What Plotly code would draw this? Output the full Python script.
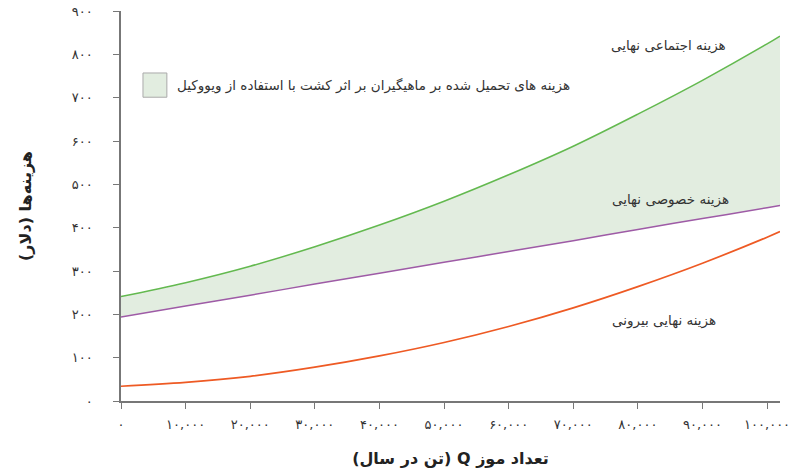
import plotly.graph_objects as go

# تعداد موز (تن در سال)
Q = [0, 10000, 20000, 30000, 40000, 50000, 60000, 70000, 80000, 90000, 100000, 102000]
# هزینه خصوصی نهایی
hazine_khosusi = [194, 219, 244, 270, 295, 320, 345, 370, 396, 421, 446, 451]
# هزینه نهایی بیرونی
hazine_biruni = [34, 43, 57, 78, 104, 135, 172, 215, 264, 318, 378, 391]
# هزینه اجتماعی نهایی
hazine_ejtemai = [241, 273, 311, 356, 406, 461, 522, 588, 662, 740, 824, 842]

y_tickvals = [0, 100, 200, 300, 400, 500, 600, 700, 800, 900]
y_ticktext = ["۰", "۱۰۰", "۲۰۰", "۳۰۰", "۴۰۰", "۵۰۰", "۶۰۰", "۷۰۰", "۸۰۰", "۹۰۰"]
x_tickvals = [0, 10000, 20000, 30000, 40000, 50000, 60000, 70000, 80000, 90000, 100000]
x_ticktext = ["۰", "۱۰,۰۰۰", "۲۰,۰۰۰", "۳۰,۰۰۰", "۴۰,۰۰۰", "۵۰,۰۰۰",
              "۶۰,۰۰۰", "۷۰,۰۰۰", "۸۰,۰۰۰", "۹۰,۰۰۰", "۱۰۰,۰۰۰"]

sabz = "#63b94f"
banafsh = "#9e5ba6"
narenji = "#ee5a24"
rang_fill = "#e2ede0"
font_fa = "DejaVu Sans"

fig = go.Figure()
fig.add_trace(go.Scatter(x=Q, y=hazine_khosusi, mode="lines",
                         line=dict(color=banafsh, width=1.5, shape="spline"),
                         hoverinfo="skip"))
fig.add_trace(go.Scatter(x=Q, y=hazine_ejtemai, mode="lines",
                         line=dict(color=sabz, width=1.5, shape="spline"),
                         fill="tonexty", fillcolor=rang_fill, hoverinfo="skip"))
fig.add_trace(go.Scatter(x=Q, y=hazine_biruni, mode="lines",
                         line=dict(color=narenji, width=1.7, shape="spline"),
                         hoverinfo="skip"))

# برچسب منحنی ها
fig.add_annotation(x=84700, y=821, text="هزینه اجتماعی نهایی", showarrow=False,
                   font=dict(size=13.5, color="#333", family=font_fa))
fig.add_annotation(x=85000, y=466, text="هزینه خصوصی نهایی", showarrow=False,
                   font=dict(size=13.5, color="#333", family=font_fa))
fig.add_annotation(x=84000, y=186, text="هزینه نهایی بیرونی", showarrow=False,
                   font=dict(size=13.5, color="#333", family=font_fa))

# راهنما
fig.add_shape(type="rect", x0=3400, x1=7100, y0=701, y1=757,
              fillcolor=rang_fill, line=dict(color="#aaaaaa", width=1))
fig.add_annotation(x=69800, y=729, xanchor="right",
                   text="هزینه های تحمیل شده بر ماهیگیران بر اثر کشت با استفاده از ویووکیل",
                   showarrow=False, font=dict(size=13.5, color="#333", family=font_fa))

fig.update_layout(
    width=810, height=473,
    margin=dict(l=121, r=30, t=11, b=72),
    plot_bgcolor="white", paper_bgcolor="white",
    showlegend=False,
    font=dict(family=font_fa, color="#333"),
)
fig.update_xaxes(range=[0, 102000], tickvals=x_tickvals, ticktext=x_ticktext,
                 showgrid=False, zeroline=False, showline=True, linecolor="#777",
                 linewidth=1.5, ticks="outside", ticklen=6, tickcolor="#777",
                 ticklabelstandoff=5, tickfont=dict(size=13, color="#333"),
                 automargin=False,
                 title=dict(text="\u202b<b>تعداد موز Q (تن در سال)</b>\u202c",
                            font=dict(size=16, color="#222"), standoff=21))
fig.update_yaxes(range=[0, 900], tickvals=y_tickvals, ticktext=y_ticktext,
                 showgrid=False, zeroline=False, showline=True, linecolor="#777",
                 linewidth=1.5, ticks="outside", ticklen=6, tickcolor="#777",
                 ticklabelstandoff=18, tickfont=dict(size=13, color="#333"),
                 automargin=False,
                 title=dict(text="\u202b<b>هزینه\u200cها (دلار)</b>\u202c",
                            font=dict(size=16, color="#222"), standoff=36))

fig.write_html("out.html", config={"displayModeBar": False},
               post_script="document.body.style.margin='0';")
